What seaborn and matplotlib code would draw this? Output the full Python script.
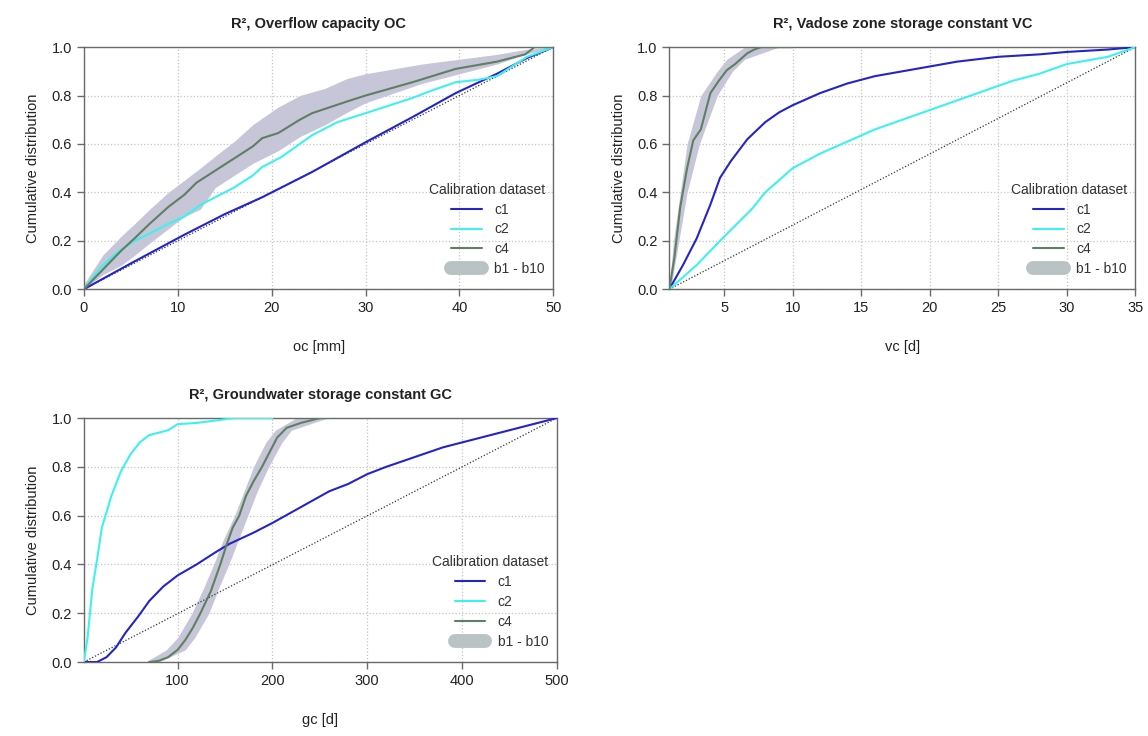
import numpy as np
import pandas as pd
import seaborn as sns
import matplotlib.pyplot as plt
from matplotlib.lines import Line2D

sns.set_theme(style="white")
plt.rcParams['font.family'] = ['Liberation Sans', 'DejaVu Sans']

colors = {'c1': '#2424c8', 'c2': '#3ff0f0', 'c4': '#5f7f62'}
band_color = '#c6c6d8'
legend_band_color = '#b9c3c3'

# ---- OC panel ----
oc_c1_x = [0, 5.4, 10.7, 15, 19, 24.3, 30, 35, 39.6, 44, 47.2, 50]
oc_c1_y = [0, 0.115, 0.225, 0.31, 0.38, 0.484, 0.607, 0.711, 0.81, 0.89, 0.955, 1.0]
oc_c2_x = [0, 1.8, 3.5, 5.4, 7, 9, 10.7, 12.5, 14, 16, 18, 19, 21, 24.3, 27, 30, 35, 37,
           39.6, 42, 44, 46, 47.2, 50]
oc_c2_y = [0, 0.09, 0.15, 0.20, 0.23, 0.27, 0.30, 0.35, 0.38, 0.42, 0.47, 0.505, 0.545,
           0.636, 0.69, 0.727, 0.79, 0.82, 0.855, 0.865, 0.88, 0.93, 0.96, 1.0]
oc_c4_x = [0, 2, 4, 5.4, 7, 9, 10.7, 12, 14, 16, 18, 19, 20.7, 23, 24.3, 28, 30, 35, 39.6,
           44, 47, 48, 50]
oc_c4_y = [0, 0.08, 0.16, 0.21, 0.27, 0.34, 0.39, 0.44, 0.49, 0.54, 0.59, 0.624, 0.645,
           0.70, 0.727, 0.775, 0.80, 0.855, 0.91, 0.94, 0.97, 1.0, 1.0]
oc_band_x = [0, 2, 4, 5.4, 7, 9, 10.7, 12.4, 14, 16, 18, 20.6, 23, 25.7, 28, 30, 33, 36, 40,
             44, 47, 50]
oc_band_hi = [0.02, 0.14, 0.22, 0.27, 0.33, 0.40, 0.45, 0.50, 0.55, 0.61, 0.68, 0.75, 0.80,
              0.83, 0.87, 0.89, 0.91, 0.93, 0.95, 0.97, 0.99, 1.0]
oc_band_lo = [0, 0.06, 0.10, 0.14, 0.19, 0.25, 0.30, 0.33, 0.42, 0.47, 0.52, 0.57, 0.63,
              0.68, 0.73, 0.77, 0.81, 0.85, 0.89, 0.93, 0.97, 1.0]

# ---- VC panel ----
vc_c1_x = [1, 2, 3, 4, 4.7, 5.5, 6.7, 8, 9, 10, 12, 14, 16, 18, 20, 22, 25, 28, 30, 33, 35]
vc_c1_y = [0, 0.10, 0.21, 0.35, 0.46, 0.53, 0.62, 0.69, 0.73, 0.76, 0.81, 0.85, 0.88,
           0.90, 0.92, 0.94, 0.96, 0.97, 0.98, 0.99, 1.0]
vc_c2_x = [1, 3, 4.7, 7, 8, 10, 12, 14, 16, 18, 20, 22, 24, 26, 28, 30, 32, 33, 35]
vc_c2_y = [0, 0.10, 0.20, 0.33, 0.40, 0.50, 0.56, 0.61, 0.66, 0.70, 0.74, 0.78, 0.82,
           0.86, 0.89, 0.93, 0.95, 0.96, 1.0]
vc_c4_x = [1, 1.37, 1.8, 2.3, 2.75, 3.3, 4, 4.6, 5.2, 5.8, 6.7, 7.2, 7.7, 10]
vc_c4_y = [0, 0.13, 0.34, 0.50, 0.615, 0.66, 0.81, 0.86, 0.905, 0.93, 0.975, 0.99, 1.0, 1.0]
vc_band_y = [0, 0.2, 0.4, 0.6, 0.8, 0.9, 0.95, 1.0]
vc_band_lo = [1, 1.3, 1.8, 2.3, 3.3, 4.5, 5.2, 6.5]
vc_band_hi = [1.1, 1.7, 2.3, 3.2, 4.5, 5.6, 6.5, 9]

# ---- GC panel ----
gc_c1_x = [1, 15, 25, 35, 45, 59, 70, 85, 100, 120, 140, 155, 180, 200, 230, 260,
           280, 300, 320, 350, 380, 400, 430, 460, 480, 500]
gc_c1_y = [0, 0.0, 0.02, 0.06, 0.12, 0.19, 0.25, 0.31, 0.355, 0.40, 0.45, 0.485, 0.53,
           0.57, 0.635, 0.70, 0.73, 0.77, 0.80, 0.84, 0.88, 0.90, 0.93, 0.96, 0.98, 1.0]
gc_c2_x = [1, 5, 10, 15, 20, 30, 40, 50, 60, 70, 90, 100, 120, 140, 160, 200]
gc_c2_y = [0, 0.10, 0.30, 0.42, 0.55, 0.68, 0.78, 0.85, 0.90, 0.93, 0.95, 0.975, 0.98, 0.99,
           1.0, 1.0]
gc_c4_x = [70, 80, 90, 100, 108, 116, 124, 135, 145, 152, 158, 165, 172, 180, 189, 197, 205,
           215, 230, 250, 260]
gc_c4_y = [0, 0.005, 0.02, 0.05, 0.09, 0.14, 0.20, 0.29, 0.40, 0.485, 0.55, 0.60, 0.68, 0.74,
           0.80, 0.86, 0.92, 0.96, 0.98, 1.0, 1.0]
gc_band_y = [0, 0.05, 0.1, 0.2, 0.3, 0.4, 0.5, 0.6, 0.7, 0.8, 0.9, 0.95, 1.0]
gc_band_lo = [66, 88, 100, 115, 127, 138, 148, 160, 170, 180, 193, 203, 225]
gc_band_hi = [80, 108, 118, 133, 143, 154, 164, 174, 184, 196, 210, 220, 258]


def panel(ax, curves, xlim, xticks, xlabel, title):
    df = pd.concat([pd.DataFrame({'x': x, 'y': y, 'set': name})
                    for name, (x, y) in curves.items()])
    ax.plot(xlim, [0, 1], ls=(0, (1, 1.5)), color='#333333', lw=0.9, zorder=2)
    sns.lineplot(data=df, x='x', y='y', hue='set', palette=colors, estimator=None,
                 sort=False, lw=1.5, ax=ax, legend=False, zorder=3)
    ax.set_xlim(xlim)
    ax.set_ylim(0, 1)
    ax.set_xticks(xticks)
    ax.set_yticks([0, 0.2, 0.4, 0.6, 0.8, 1.0])
    ax.set_yticklabels(['0.0', '0.2', '0.4', '0.6', '0.8', '1.0'])
    ax.grid(True, ls=':', color='#c4c4c4', lw=0.9)
    ax.set_axisbelow(True)
    for s in ax.spines.values():
        s.set_color('#6a6a6a')
        s.set_linewidth(1.0)
    ax.tick_params(direction='out', length=5, width=1, color='#6a6a6a',
                   labelsize=10.5, labelcolor='#222222', bottom=True, left=True)
    ax.set_xlabel(xlabel, fontsize=10.5, labelpad=18, color='#222222')
    ax.set_ylabel('Cumulative distribution', fontsize=10.5, labelpad=8, color='#222222')
    ax.set_title(title, fontsize=10.5, fontweight='bold', pad=14, color='#222222')

    handles = [Line2D([], [], color=colors['c1'], lw=1.5),
               Line2D([], [], color=colors['c2'], lw=1.5),
               Line2D([], [], color=colors['c4'], lw=1.5),
               Line2D([], [], color=legend_band_color, lw=10, solid_capstyle='round')]
    leg = ax.legend(handles, ['c1', 'c2', 'c4', 'b1 - b10'], title='Calibration dataset',
                    loc='lower right', frameon=False, fontsize=10, title_fontsize=10,
                    handlelength=2.2, handletextpad=0.9, labelspacing=0.42,
                    borderaxespad=0.2, bbox_to_anchor=(1.0, 0.02))
    leg._legend_box.align = 'right'
    leg.get_title().set_color('#333333')
    for t in leg.get_texts():
        t.set_color('#333333')


fig = plt.figure(figsize=(11.48, 7.36), dpi=100)
ax1 = fig.add_axes([0.073, 0.607, 0.409, 0.329])
ax2 = fig.add_axes([0.583, 0.607, 0.406, 0.329])
ax3 = fig.add_axes([0.073, 0.1005, 0.412, 0.3315])

ax1.fill_between(oc_band_x, oc_band_lo, oc_band_hi, color=band_color, lw=0, zorder=1)
ax2.fill_betweenx(vc_band_y, vc_band_lo, vc_band_hi, color=band_color, lw=0, zorder=1)
ax3.fill_betweenx(gc_band_y, gc_band_lo, gc_band_hi, color=band_color, lw=0, zorder=1)

panel(ax1, {'c1': (oc_c1_x, oc_c1_y), 'c2': (oc_c2_x, oc_c2_y), 'c4': (oc_c4_x, oc_c4_y)},
      (0, 50), [0, 10, 20, 30, 40, 50], 'oc [mm]', 'R², Overflow capacity OC')
panel(ax2, {'c1': (vc_c1_x, vc_c1_y), 'c2': (vc_c2_x, vc_c2_y), 'c4': (vc_c4_x, vc_c4_y)},
      (1, 35), [5, 10, 15, 20, 25, 30, 35], 'vc [d]', 'R², Vadose zone storage constant VC')
panel(ax3, {'c1': (gc_c1_x, gc_c1_y), 'c2': (gc_c2_x, gc_c2_y), 'c4': (gc_c4_x, gc_c4_y)},
      (1, 500), [100, 200, 300, 400, 500], 'gc [d]', 'R², Groundwater storage constant GC')

fig.savefig('out.png', dpi=100)
